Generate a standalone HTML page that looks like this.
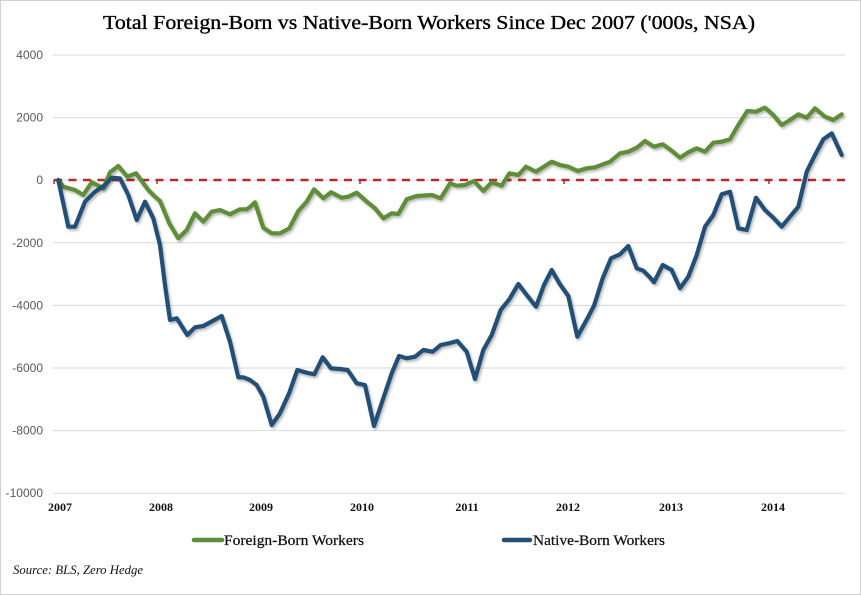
<!DOCTYPE html>
<html>
<head>
<meta charset="utf-8">
<style>
html,body{margin:0;padding:0;background:#fff;}
svg{display:block;}
</style>
</head>
<body>
<svg width="861" height="595" viewBox="0 0 861 595" xmlns="http://www.w3.org/2000/svg">
<defs>
<filter id="sh" x="-5%" y="-5%" width="110%" height="115%">
<feDropShadow dx="1.5" dy="2" stdDeviation="1.2" flood-color="#000" flood-opacity="0.28"/>
</filter>
</defs>
<rect x="0.5" y="0.5" width="860" height="594" fill="#fff" stroke="#d0d0d0" stroke-width="1"/>

<text x="429" y="29" text-anchor="middle" font-family="'Liberation Serif', serif" font-size="20" fill="#000" stroke="#000" stroke-width="0.35" textLength="652" lengthAdjust="spacingAndGlyphs">Total Foreign-Born vs Native-Born Workers Since Dec 2007 ('000s, NSA)</text>

<g stroke="#d9d9d9" stroke-width="1">
<line x1="53" y1="55" x2="845" y2="55"/>
<line x1="53" y1="117.6" x2="845" y2="117.6"/>
<line x1="53" y1="180.2" x2="845" y2="180.2"/>
<line x1="53" y1="242.8" x2="845" y2="242.8"/>
<line x1="53" y1="305.4" x2="845" y2="305.4"/>
<line x1="53" y1="368" x2="845" y2="368"/>
<line x1="53" y1="430.6" x2="845" y2="430.6"/>
<line x1="53" y1="493.2" x2="845" y2="493.2"/>
</g>

<g font-family="'Liberation Sans', sans-serif" font-size="12" fill="#595959" text-anchor="end">
<text x="43" y="59">4000</text>
<text x="43" y="121.6">2000</text>
<text x="43" y="184.2">0</text>
<text x="43" y="246.8">-2000</text>
<text x="43" y="309.4">-4000</text>
<text x="43" y="372">-6000</text>
<text x="43" y="434.6">-8000</text>
<text x="43" y="497.2">-10000</text>
</g>

<line x1="54" y1="180" x2="845" y2="180" stroke="#b5282e" stroke-width="2.5" stroke-dasharray="8 6.5"/>
<g stroke="#b5282e" stroke-width="1.5">
<line x1="54" y1="180" x2="54" y2="184"/>
<line x1="157" y1="180" x2="157" y2="184"/>
<line x1="360" y1="180" x2="360" y2="184"/>
<line x1="564" y1="180" x2="564" y2="184"/>
<line x1="769" y1="180" x2="769" y2="184"/>
</g>

<g font-family="'Liberation Serif', serif" font-size="12" font-weight="bold" fill="#111" text-anchor="middle">
<text x="60" y="511">2007</text>
<text x="161" y="511">2008</text>
<text x="261" y="511">2009</text>
<text x="362" y="511">2010</text>
<text x="467" y="511">2011</text>
<text x="568" y="511">2012</text>
<text x="671" y="511">2013</text>
<text x="773" y="511">2014</text>
</g>

<polyline filter="url(#sh)" fill="none" stroke="#5e8d39" stroke-width="4.2" stroke-linejoin="round" stroke-linecap="round" points="58.3,180 63.3,186.7 75,190 83.3,195 91.7,182.3 103.3,188.3 110,172.3 118.3,166 127.3,176.7 136,173.3 148.3,190 155,196.7 160,201 169.3,223.3 178.3,238.3 186.7,230 195,213.3 203.3,221.7 211.7,211.7 220,210 230,214.3 240,209.3 246.7,209.3 250,207 255,202.3 263.3,227.7 271.7,233.3 280,233.3 289.3,228.3 298.3,211 306.7,201.7 314,189.3 323.3,198.3 331,192.3 341.7,197.7 348.3,196.7 356.7,192.7 366,201 375,208.3 383.3,218.3 391.7,213.3 398.3,214 406.7,199.3 416.7,196 431.7,195 440.7,198.3 450,183.3 456.7,185.7 465,185 474,181 483.3,191 491.7,182.3 501.7,185.7 509.3,173.3 518.3,175 526,166.7 536,171.7 551.7,161.7 560,165 568.3,166.7 577.7,171 586.7,168.3 595,167.3 610,161.7 620,153.3 628.3,151.7 636.7,147.7 645,141 650,144.3 654,146.7 662.7,144.3 671.7,150.7 680,157.7 688.3,152.3 696.7,148.3 705,151.7 713.3,142.7 721.7,141.7 730,139.3 738.3,125 747.3,111 756,111.7 765,107.7 773.3,115 781.7,125 790,120 798.3,114.3 806.7,117.7 815,108.3 825,116.7 833.3,120 841.7,114.3"/>

<polyline filter="url(#sh)" fill="none" stroke="#234f76" stroke-width="4.2" stroke-linejoin="round" stroke-linecap="round" points="58.3,180 68.3,226.7 75,226.7 85,201.7 95,191.7 105,185 111.7,177.7 120,178.3 128.3,195 136.7,220 145,201.7 153.3,218.3 160,245 165,285 170,320 176.7,318.3 187.3,335 195,327.3 203.3,326 221.7,316 230,341.7 238.3,377.3 243.3,377.3 250,380 256.7,385 263.3,396.7 271.7,425 280,413.3 289.3,392.7 297.3,370 306.7,372.7 314.3,374.3 322.7,357.3 331,368.3 340,369 347.7,370 356.7,383.3 365,385 374,426 383.3,398.3 391.7,373.3 399,356 406.7,358.3 415,356.7 423.3,350 432.7,351.7 440.7,345 450,343 457.3,341 466.7,351.7 475,379 483.3,350 491.7,335 500.7,310 509.3,299.3 518.3,284 526.7,295 536,306.7 544,285 551.7,270 560,284.3 568.3,296 577.3,336.7 586,321 594,305.7 602.7,278.3 611,258.3 620,254.3 628.3,246 636.7,268.3 643.3,270.7 650,277.5 654,282.3 662.7,265 671.7,270 680,288.3 688.3,276.7 696.7,255 705,226.7 713.3,215 721.7,194.3 730,191.7 738.3,228.3 746.7,230 756,197.7 765,210 773.3,217.7 781.7,226.7 790,216.7 798.3,206.7 806.7,171.7 815,155 823.3,139.3 831.7,133.3 841.7,155"/>

<line x1="194" y1="540" x2="222" y2="540" stroke="#5e8d39" stroke-width="4.5" stroke-linecap="round"/>
<text x="224" y="545" font-family="'Liberation Serif', serif" font-size="15" fill="#111" stroke="#111" stroke-width="0.25" textLength="140" lengthAdjust="spacingAndGlyphs">Foreign-Born Workers</text>
<line x1="504" y1="540" x2="530" y2="540" stroke="#234f76" stroke-width="4.5" stroke-linecap="round"/>
<text x="533" y="545" font-family="'Liberation Serif', serif" font-size="15" fill="#111" stroke="#111" stroke-width="0.25" textLength="132" lengthAdjust="spacingAndGlyphs">Native-Born Workers</text>

<text x="13" y="574" font-family="'Liberation Serif', serif" font-size="13" font-style="italic" fill="#111" textLength="130" lengthAdjust="spacingAndGlyphs">Source: BLS, Zero Hedge</text>
</svg>
</body>
</html>
